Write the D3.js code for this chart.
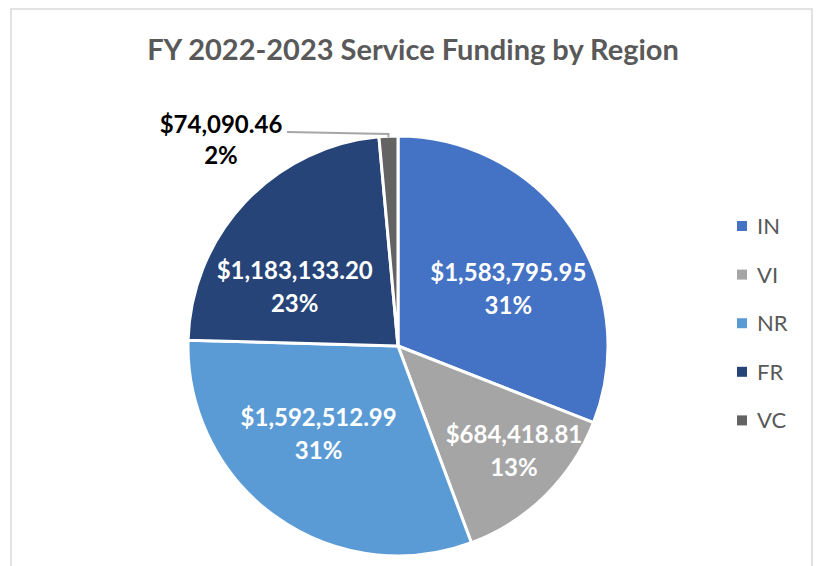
<!DOCTYPE html>
<html>
<head>
<meta charset="utf-8">
<script src="https://cdn.jsdelivr.net/npm/d3@7"></script>
<style>
  html, body { margin: 0; padding: 0; background: #fff; }
  text { font-family: Lato, "Open Sans", sans-serif; }
</style>
</head>
<body>
<script>
// chart data
const regions = ["IN", "VI", "NR", "FR", "VC"];
const funding = [1583795.95, 684418.81, 1592512.99, 1183133.20, 74090.46];
const colors = ["#4472C4", "#A5A5A5", "#5B9BD5", "#264478", "#636363"];
const titleText = "FY 2022-2023 Service Funding by Region";

// label layout: radius fraction + small nudge (px) per slice
const labelRadius = [0.59, 0.74, 0.56, 0.57];
const labelNudge = [[8, 12], [7, -7], [-11, -9], [-16, 22]];

const width = 816, height = 566;
const cx = 398, cy = 346, radius = 210;

const svg = d3.select("body").append("svg")
    .attr("width", width)
    .attr("height", height)
    .attr("viewBox", `0 0 ${width} ${height}`);

// chart frame
svg.append("rect")
    .attr("x", 11).attr("y", 9)
    .attr("width", 801).attr("height", 600)
    .attr("fill", "#fff")
    .attr("stroke", "#d9d9d9")
    .attr("stroke-width", 1.5);

svg.append("text")
    .attr("x", 413).attr("y", 60)
    .attr("text-anchor", "middle")
    .attr("font-size", 29)
    .attr("font-weight", 700)
    .attr("fill", "#595959")
    .text(titleText);

const total = d3.sum(funding);
const pie = d3.pie().sort(null).value(d => d.value);
const data = regions.map((r, i) => ({ region: r, value: funding[i], color: colors[i] }));
const arcs = pie(data);

const arc = d3.arc().innerRadius(0).outerRadius(radius);

const g = svg.append("g").attr("transform", `translate(${cx},${cy})`);

g.selectAll("path.slice")
    .data(arcs)
    .join("path")
    .attr("class", "slice")
    .attr("d", arc)
    .attr("fill", d => d.data.color)
    .attr("stroke", "#fff")
    .attr("stroke-width", 3)
    .attr("stroke-linejoin", "round");

const money = d3.format("$,.2f");

// whole percents that add up to 100 (largest remainder)
const raw = funding.map(v => v / total * 100);
const pcts = raw.map(Math.floor);
let left = 100 - d3.sum(pcts);
d3.range(raw.length)
    .sort((a, b) => (raw[b] - pcts[b]) - (raw[a] - pcts[a]))
    .slice(0, left)
    .forEach(i => pcts[i] += 1);

// inside labels
arcs.slice(0, 4).forEach((d, i) => {
    const r = radius * labelRadius[i];
    const c = d3.arc().innerRadius(r).outerRadius(r).centroid(d);
    const x = c[0] + labelNudge[i][0], y = c[1] + labelNudge[i][1];
    const t = g.append("text")
        .attr("text-anchor", "middle")
        .attr("font-size", 24)
        .attr("font-weight", 700)
        .attr("fill", "#fff");
    t.append("tspan").attr("x", x).attr("y", y - 7).text(money(d.data.value));
    t.append("tspan").attr("x", x).attr("y", y + 26).text(pcts[i] + "%");
});

// outside label for the small slice, with leader line
const small = arcs[4];
const mid = (small.startAngle + small.endAngle) / 2;
const edge = [radius * Math.sin(mid), -radius * Math.cos(mid)];
g.append("polyline")
    .attr("points", [[-111, -214], [edge[0], -212], [edge[0], edge[1] + 1]].map(p => p.join(",")).join(" "))
    .attr("fill", "none")
    .attr("stroke", "#a6a6a6")
    .attr("stroke-width", 2);

const ot = g.append("text")
    .attr("text-anchor", "middle")
    .attr("font-size", 24)
    .attr("font-weight", 700)
    .attr("fill", "#000");
ot.append("tspan").attr("x", -177).attr("y", -213).text(money(small.data.value));
ot.append("tspan").attr("x", -177).attr("y", -182).text(pcts[4] + "%");

// legend
const legend = svg.append("g").attr("transform", "translate(737,226)");
const item = legend.selectAll("g")
    .data(data)
    .join("g")
    .attr("transform", (d, i) => `translate(0,${i * 48.6})`);
item.append("rect")
    .attr("x", 0).attr("y", -5)
    .attr("width", 10).attr("height", 10)
    .attr("fill", d => d.color);
item.append("text")
    .attr("x", 20).attr("y", 8)
    .attr("font-size", 22)
    .attr("fill", "#595959")
    .text(d => d.region);
</script>
</body>
</html>
